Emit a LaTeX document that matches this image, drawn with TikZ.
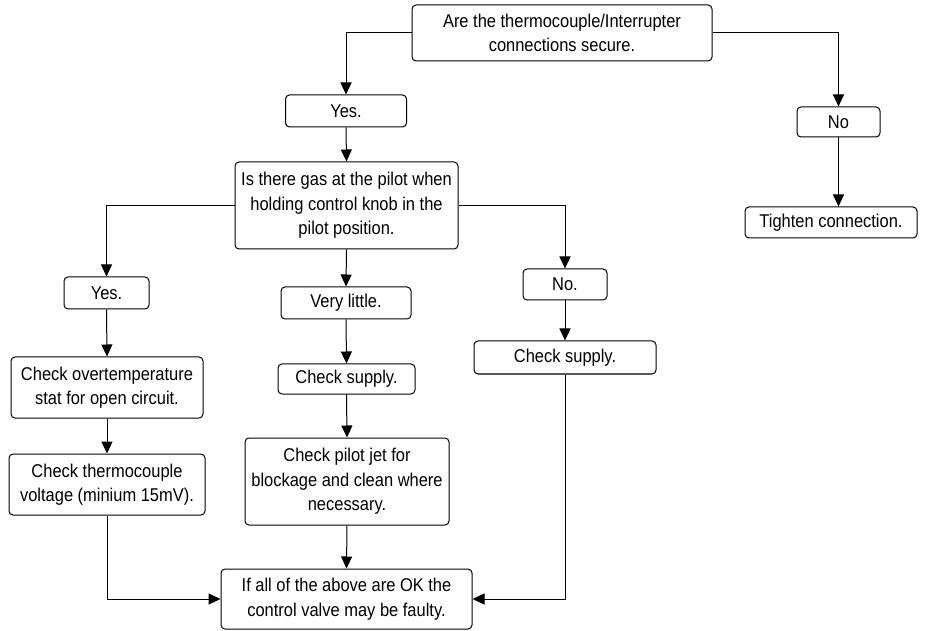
\documentclass[tikz,border=0pt]{standalone}
\usepackage{fontspec}
\setmainfont[FakeStretch=0.89]{Liberation Sans}
\usetikzlibrary{arrows.meta}
\begin{document}
\begin{tikzpicture}[x=1pt,y=-1pt,
  box/.style={draw,rounded corners=4pt,line width=1pt,align=center,inner sep=0pt,
    font=\fontsize{18.5}{24.5}\selectfont},
  conn/.style={line width=1pt,-{Triangle[length=12pt,width=11pt]}},
  plain/.style={line width=1pt}]
\useasboundingbox (0,0) rectangle (930,631);
\node[box,minimum width=300pt,minimum height=56pt] (top) at (562,33) {Are the thermocouple/Interrupter\\connections secure.};
\node[box,minimum width=121pt,minimum height=32pt] (yes1) at (346,111) {Yes.};
\node[box,minimum width=83pt,minimum height=30pt] (no1) at (838.5,122) {No};
\node[box,minimum width=172pt,minimum height=31pt] (tight) at (831,222.5) {Tighten connection.};
\node[box,minimum width=223pt,minimum height=87pt] (gas) at (346.5,205.5) {Is there gas at the pilot when\\holding control knob in the\\pilot position.};
\node[box,minimum width=85pt,minimum height=32pt] (yes2) at (106.5,293) {Yes.};
\node[box,minimum width=130pt,minimum height=32pt] (vlittle) at (346,303) {Very little.};
\node[box,minimum width=84pt,minimum height=31pt] (no2) at (565,284.5) {No.};
\node[box,minimum width=182pt,minimum height=33pt] (supR) at (565,357.5) {Check supply.};
\node[box,minimum width=192pt,minimum height=61pt] (over) at (107,387.5) {Check overtemperature\\stat for open circuit.};
\node[box,minimum width=196pt,minimum height=61pt] (volt) at (107,484.5) {Check thermocouple\\voltage (minium 15mV).};
\node[box,minimum width=137pt,minimum height=30pt] (supM) at (346.5,379) {Check supply.};
\node[box,minimum width=204pt,minimum height=87pt] (jet) at (347,481.5) {Check pilot jet for\\blockage and clean where\\necessary.};
\node[box,minimum width=251pt,minimum height=60pt] (final) at (346.5,599) {If all of the above are OK the\\control valve may be faulty.};

\draw[conn] (top.west) -| (yes1.north);
\draw[conn] (top.east) -| (no1.north);
\draw[conn] (no1.south) -- (no1.south |- tight.north);
\draw[conn] (yes1.south) -- (gas.north);
\draw[conn] (gas.west) -| (yes2.north);
\draw[conn] (gas.east) -| (no2.north);
\draw[conn] (gas.south) -- (vlittle.north);
\draw[conn] (yes2.south) -- (over.north);
\draw[conn] (over.south) -- (volt.north);
\draw[conn] (vlittle.south) -- (supM.north);
\draw[conn] (supM.south) -- (jet.north);
\draw[conn] (jet.south) -- (final.north);
\draw[conn] (no2.south) -- (supR.north);
\draw[conn] (volt.south) |- (final.west);
\draw[conn] (supR.south) |- (final.east);
\end{tikzpicture}
\end{document}
